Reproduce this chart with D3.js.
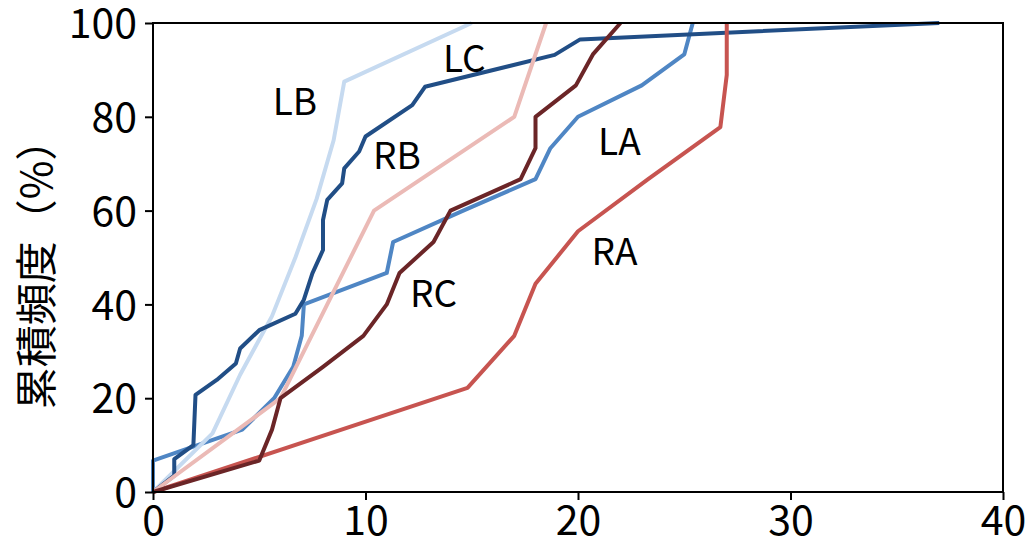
<!DOCTYPE html>
<html>
<head>
<meta charset="utf-8">
<script src="https://cdn.jsdelivr.net/npm/d3@7"></script>
<style>
  body { margin: 0; background: #fff; }
  svg { font-family: "Noto Sans CJK JP", "Noto Sans", sans-serif; }
</style>
</head>
<body>
<svg id="chart" width="1035" height="547"></svg>
<script>
// cumulative frequency (%) vs value, one pair of arrays per group
let laX = [0, 0, 4.2, 5.7, 6.6, 7.0, 7.1, 11.0, 11.3, 14.6, 18.0, 18.7, 20.0, 23.0, 25.0, 25.4];
let laY = [0, 6.7, 13.3, 20, 26.7, 33.3, 40, 46.7, 53.3, 60, 66.7, 73.3, 80, 86.7, 93.3, 100];

let lbX = [0, 2.8, 4.1, 5.6, 6.7, 7.7, 8.5, 9.0, 15.0];
let lbY = [0, 12.5, 25, 37.5, 50, 62.5, 75, 87.5, 100];

let lcX = [0, 1.0, 1.0, 1.9, 2.0, 3.0, 3.9, 4.1, 5.0, 6.7, 7.1, 7.5, 8.0, 8.0, 8.2, 8.9, 9.0, 9.7, 10.0, 12.2, 12.8, 18.9, 20.1, 37.0];
let lcY = [0, 3.5, 7, 10, 20.7, 23.9, 27.4, 30.6, 34.5, 38, 41, 46.6, 51.6, 58, 62.3, 65.8, 69, 72.6, 75.8, 82.5, 86.4, 93.2, 96.5, 100];

let raX = [0, 14.8, 17.0, 18.0, 20.0, 23.3, 26.7, 27.0, 27.0];
let raY = [0, 22.2, 33.3, 44.4, 55.6, 66.7, 77.8, 88.9, 100];

let rbX = [0, 6.0, 8.2, 10.4, 17.0, 18.5];
let rbY = [0, 20, 40, 60, 80, 100];

let rcX = [0, 5.0, 5.6, 6.0, 8.0, 9.9, 11.0, 11.6, 13.2, 14.0, 17.3, 18.0, 18.0, 19.9, 20.7, 22.0];
let rcY = [0, 6.7, 13.3, 20, 26.7, 33.3, 40, 46.7, 53.3, 60, 66.7, 73.3, 80, 86.7, 93.3, 100];

let seriesNames = ['LA', 'LB', 'LC', 'RA', 'RB', 'RC'];

// where the group names sit (data coords, text start / baseline)
let labelNames = ['LB', 'LC', 'RB', 'LA', 'RA', 'RC'];
let labelX = [5.63, 13.65, 10.35, 20.94, 20.64, 12.09];
let labelY = [80.4, 89.6, 68.9, 71.9, 48.4, 39.5];

let xTicks = [0, 10, 20, 30, 40];
let yTicks = [0, 20, 40, 60, 80, 100];

let createChart = () => {
    let margin = {top: 23, right: 32, bottom: 55, left: 153};
    let width = 1035 - margin.left - margin.right;
    let height = 547 - margin.top - margin.bottom;

    let colors = {
        LA: '#4f86c4',
        LB: '#c6daf0',
        LC: '#214e86',
        RA: '#c75450',
        RB: '#ebbab6',
        RC: '#6b2527'
    };

    let series = {
        LA: d3.zip(laX, laY),
        LB: d3.zip(lbX, lbY),
        LC: d3.zip(lcX, lcY),
        RA: d3.zip(raX, raY),
        RB: d3.zip(rbX, rbY),
        RC: d3.zip(rcX, rcY)
    };

    let svg = d3.select('#chart');
    let g = svg.append('g')
               .attr('transform', `translate(${margin.left},${margin.top})`);

    let xScale = d3.scaleLinear().domain([0, 40]).range([0, width]);
    let yScale = d3.scaleLinear().domain([0, 100]).range([height, 0]);

    let line = d3.line()
                 .x((d) => xScale(d[0]))
                 .y((d) => yScale(d[1]));

    g.append('defs').append('clipPath')
     .attr('id', 'clip')
     .append('rect')
     .attr('x', -3).attr('y', -3)
     .attr('width', width + 6).attr('height', height + 6);

    seriesNames.forEach((name) => {
        g.append('path')
         .datum(series[name])
         .attr('clip-path', 'url(#clip)')
         .attr('d', line)
         .attr('fill', 'none')
         .attr('stroke', colors[name])
         .attr('stroke-width', 4)
         .attr('stroke-linejoin', 'round');
    });

    // frame
    g.append('rect')
     .attr('width', width)
     .attr('height', height)
     .attr('fill', 'none')
     .attr('stroke', '#000')
     .attr('stroke-width', 2);

    let xAxis = d3.axisBottom(xScale).tickValues(xTicks).tickSize(8).tickPadding(6).tickFormat(d3.format('d'));
    let yAxis = d3.axisLeft(yScale).tickValues(yTicks).tickSize(8).tickPadding(8).tickFormat(d3.format('d'));

    let gx = g.append('g')
              .attr('transform', `translate(0,${height})`)
              .call(xAxis);
    let gy = g.append('g').call(yAxis);

    [gx, gy].forEach((ax) => {
        ax.select('.domain').remove();
        ax.selectAll('line').attr('stroke', '#000').attr('stroke-width', 2);
        ax.selectAll('text')
          .attr('fill', '#000')
          .style('font-family', '"Noto Sans CJK JP", sans-serif')
          .style('font-size', '41px');
    });
    gy.selectAll('text').attr('dy', '0.36em');

    // group labels
    labelNames.forEach((name, i) => {
        g.append('text')
         .attr('x', xScale(labelX[i]))
         .attr('y', yScale(labelY[i]))
         .style('font-size', '37px')
         .attr('fill', '#000')
         .text(name);
    });

    svg.append('text')
       .attr('transform', 'translate(52,264) rotate(-90)')
       .attr('text-anchor', 'middle')
       .style('font-size', '42px')
       .attr('fill', '#000')
       .text('累積頻度（%）');
};

createChart();
</script>
</body>
</html>
